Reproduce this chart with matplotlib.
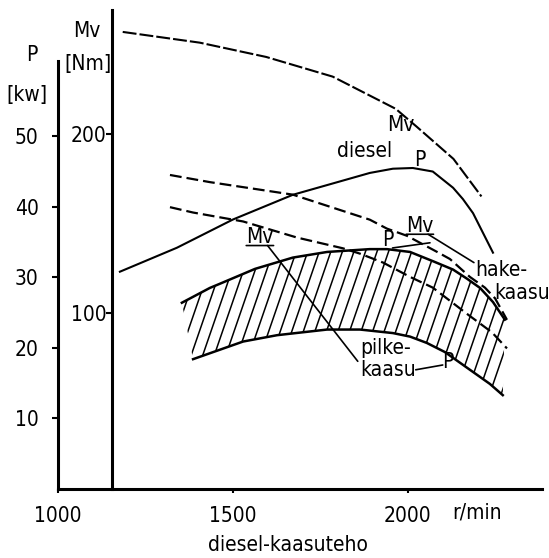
import numpy as np
import matplotlib
matplotlib.use("Agg")
import matplotlib.pyplot as plt
from matplotlib.patches import Polygon

plt.rcParams['font.family'] = 'DejaVu Sans'
plt.rcParams['font.stretch'] = 'condensed'
plt.rcParams['font.size'] = 15
plt.rcParams['lines.scale_dashes'] = False

# engine speed r/min, power P [kW], torque Mv [Nm]
rpm_diesel_mv = [1185, 1405, 1595, 1785, 1965, 2025, 2130, 2210]
mv_diesel = [257, 251, 243, 232, 214, 204, 186, 165]

rpm_diesel_p = [1177, 1340, 1500, 1671, 1891, 1957, 2014, 2071, 2129, 2157, 2186, 2243]
p_diesel = [30.8, 34.2, 38.2, 41.7, 44.8, 45.4, 45.5, 45.0, 42.7, 41.1, 39.1, 33.5]

rpm_hake_mv = [1320, 1434, 1671, 1891, 1940, 1997, 2083, 2120, 2177, 2220, 2249, 2283]
mv_hake = [177, 173, 166, 152, 147, 143, 134, 130, 120, 114, 108, 96]

rpm_pilke_mv = [1320, 1386, 1529, 1683, 1814, 1863, 1929, 2006, 2071, 2171, 2240, 2283]
mv_pilke = [159, 156, 151, 142, 136, 133, 128, 120, 114, 99, 89, 80]

rpm_hake_p = [1354, 1434, 1463, 1563, 1671, 1769, 1891, 1940, 2006, 2071, 2129, 2169, 2206, 2243, 2277]
p_hake = [26.4, 28.5, 29.1, 31.2, 32.8, 33.6, 34.0, 34.0, 33.6, 32.3, 31.1, 29.8, 28.5, 26.5, 24.0]

rpm_pilke_p = [1386, 1529, 1626, 1769, 1863, 1957, 2006, 2054, 2106, 2177, 2234, 2271]
p_pilke = [18.4, 20.9, 21.8, 22.6, 22.6, 22.1, 21.6, 20.7, 19.4, 16.9, 14.9, 13.3]

p_ticks = [10, 20, 30, 40, 50]
mv_ticks = [100, 200]
rpm_ticks = [1000, 1500, 2000]


def mv_to_p(mv):
    return (np.asarray(mv, dtype=float) - 1.4) / 3.945


def p_to_mv(p):
    return np.asarray(p, dtype=float) * 3.945 + 1.4


fig = plt.figure(figsize=(5.49, 5.58), dpi=100)
ax = fig.add_axes([0.1056, 0.1237, 0.8816, 0.8584])
ax.set_xlim(1000, 2383)
ax.set_ylim(0, 67.9)

for s in ['top', 'right']:
    ax.spines[s].set_visible(False)
for s in ['left', 'bottom']:
    ax.spines[s].set_linewidth(2.2)
ax.spines['left'].set_bounds(0, 60.6)

ax.set_yticks(p_ticks)
ax.set_xticks(rpm_ticks)
ax.tick_params(axis='y', direction='out', length=4, width=1.5, pad=10)
ax.tick_params(axis='x', direction='out', length=3, width=1.5, pad=9)

# torque axis, drawn inside the plot at ~1150 r/min
sec = ax.secondary_yaxis(1154, functions=(p_to_mv, mv_to_p), transform=ax.transData)
sec.set_alignment('left')
sec.spines['left'].set_linewidth(2.2)
sec.set_yticks(mv_ticks)
sec.tick_params(axis='y', direction='out', length=4, width=1.5, pad=0)

# curves
ax.plot(rpm_diesel_mv, mv_to_p(mv_diesel), color='black', lw=1.5, dashes=(10, 2.2))
ax.plot(rpm_diesel_p, p_diesel, color='black', lw=1.5)
ax.plot(rpm_hake_mv, mv_to_p(mv_hake), color='black', lw=1.6, dashes=(8.5, 3.6))
ax.plot(rpm_pilke_mv, mv_to_p(mv_pilke), color='black', lw=1.6, dashes=(8.5, 3.6))
ax.plot(rpm_hake_p, p_hake, color='black', lw=1.8)
ax.plot(rpm_pilke_p, p_pilke, color='black', lw=1.8)

# hatched band between the two gas engine power curves
band = np.column_stack([np.concatenate([rpm_hake_p, rpm_pilke_p[::-1]]),
                        np.concatenate([p_hake, p_pilke[::-1]])])
clip = Polygon(band, closed=True, facecolor='none', edgecolor='none')
ax.add_patch(clip)
hatch_slope = 0.144   # kW per r/min, steep hand-drawn hatch
hatch_step = 33       # r/min between hatch lines
for r0 in np.arange(1150, 2400, hatch_step):
    ln, = ax.plot([r0, r0 + 40 / hatch_slope], [0, 40], color='black', lw=1.1)
    ln.set_clip_path(clip)

# labels on the curves
ax.text(1980, 51.6, "Mv", ha='center', va='center')
ax.text(1877, 47.9, "diesel", ha='center', va='center')
ax.text(2034, 46.7, "P", ha='center', va='center')

line_kw = dict(arrowstyle='-', color='black', lw=1.2, shrinkA=0, shrinkB=0)

mv_pilke_txt = ax.text(1577, 35.7, "Mv", ha='center', va='center')
ax.annotate("", xy=(1, 0.08), xycoords=mv_pilke_txt, xytext=(0, 0.08),
            textcoords=mv_pilke_txt, arrowprops=line_kw)
pilke_txt = ax.text(1863, 18.4, "pilke-\nkaasu", ha='left', va='center',
                    linespacing=1.15)
ax.annotate("", xy=(-0.04, 0.45), xycoords=pilke_txt, xytext=(0.78, 0.08),
            textcoords=mv_pilke_txt, arrowprops=line_kw)
p_pilke_txt = ax.text(2114, 18.0, "P", ha='center', va='center')
ax.annotate("", xy=(0.05, 0.35), xycoords=p_pilke_txt, xytext=(1.0, 0.25),
            textcoords=pilke_txt, arrowprops=line_kw)

mv_hake_txt = ax.text(2034, 37.3, "Mv", ha='center', va='center')
ax.annotate("", xy=(1, 0.08), xycoords=mv_hake_txt, xytext=(0, 0.08),
            textcoords=mv_hake_txt, arrowprops=line_kw)
hake_txt = ax.text(2266, 31.1, "hake-", ha='center', va='center')
ax.text(2326, 27.8, "kaasu", ha='center', va='center')
ax.annotate("", xy=(-0.02, 0.85), xycoords=hake_txt, xytext=(0.8, 0.08),
            textcoords=mv_hake_txt, arrowprops=line_kw)
p_hake_txt = ax.text(1943, 35.3, "P", ha='center', va='center')
ax.annotate("", xy=(2063, 34.9), xycoords='data', xytext=(0.9, 0.1),
            textcoords=p_hake_txt, arrowprops=line_kw)

# axis titles
fig.text(32 / 549, 1 - 55 / 558, "P", ha='center', va='center')
fig.text(27 / 549, 1 - 95 / 558, "[kw]", ha='center', va='center')
fig.text(87 / 549, 1 - 31 / 558, "Mv", ha='center', va='center')
fig.text(88 / 549, 1 - 64 / 558, "[Nm]", ha='center', va='center')
fig.text(477 / 549, 1 - 513 / 558, "r/min", ha='center', va='center')
fig.text(288 / 549, 1 - 545 / 558, "diesel-kaasuteho", ha='center', va='center')

fig.savefig("out.png", dpi=100)
